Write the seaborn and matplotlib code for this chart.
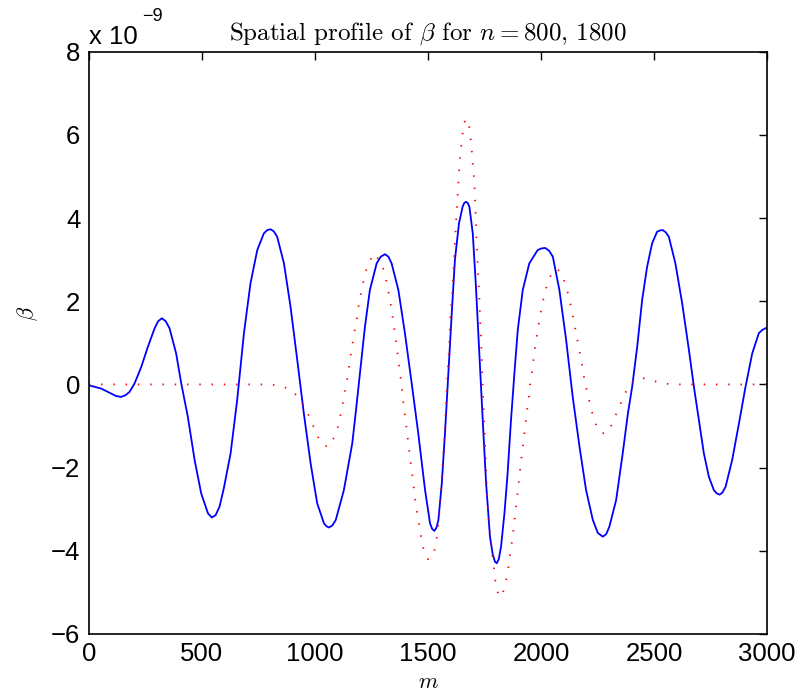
import numpy as np
import pandas as pd
import matplotlib
matplotlib.use("Agg")
import matplotlib.pyplot as plt
import seaborn as sns

# values, in units of 1e-9
m_800 = [0, 55, 99, 121, 143, 162, 180, 202, 232, 261, 291, 307, 323, 340, 357, 386, 409, 438,
         468, 497, 527, 544, 561, 578, 597, 627, 656, 686, 715, 745, 774, 789, 804, 818, 833,
         863, 892, 922, 951, 981, 1010, 1040, 1051, 1062, 1077, 1092, 1128, 1165, 1182, 1199,
         1221, 1243, 1273, 1291, 1310, 1325, 1339, 1369, 1398, 1428, 1457, 1487, 1509, 1518,
         1528, 1537, 1546, 1561, 1575, 1590, 1605, 1619, 1637, 1653, 1660, 1668, 1676, 1683,
         1698, 1712, 1727, 1742, 1757, 1774, 1786, 1796, 1804, 1813, 1823, 1838, 1852, 1867,
         1882, 1897, 1919, 1948, 1985, 2002, 2019, 2036, 2052, 2081, 2111, 2140, 2170, 2199,
         2229, 2251, 2273, 2288, 2302, 2332, 2361, 2384, 2403, 2425, 2447, 2469, 2491, 2513,
         2525, 2538, 2551, 2565, 2594, 2624, 2654, 2676, 2698, 2720, 2742, 2764, 2777, 2789,
         2802, 2816, 2845, 2875, 2904, 2934, 2963, 2978, 2992, 3000]
beta_800 = [-0.02, -0.10, -0.22, -0.28, -0.30, -0.26, -0.18, 0.02, 0.42, 0.90, 1.35, 1.52,
            1.59, 1.52, 1.35, 0.75, 0.02, -0.78, -1.82, -2.62, -3.10, -3.20, -3.14, -2.94,
            -2.50, -1.66, -0.38, 1.23, 2.43, 3.23, 3.63, 3.71, 3.73, 3.68, 3.55, 2.91, 1.87,
            0.58, -0.70, -1.90, -2.86, -3.34, -3.41, -3.44, -3.39, -3.26, -2.54, -1.42, -0.60,
            0.26, 1.38, 2.27, 2.91, 3.07, 3.13, 3.07, 2.91, 2.27, 1.23, 0.02, -1.18, -2.54,
            -3.34, -3.47, -3.52, -3.45, -3.26, -2.38, -1.18, 0.26, 1.71, 2.99, 3.87, 4.27,
            4.36, 4.39, 4.36, 4.27, 3.63, 2.35, 0.75, -0.86, -2.38, -3.66, -4.08, -4.26, -4.30,
            -4.20, -3.90, -3.10, -2.14, -0.86, 0.26, 1.31, 2.27, 2.91, 3.23, 3.27, 3.28, 3.21,
            3.07, 2.27, 1.06, -0.30, -1.50, -2.54, -3.26, -3.57, -3.66, -3.60, -3.42, -2.78,
            -1.66, -0.70, -0.05, 0.90, 2.03, 2.83, 3.39, 3.67, 3.70, 3.71, 3.66, 3.55, 2.91,
            1.95, 0.82, -0.06, -0.86, -1.66, -2.22, -2.54, -2.62, -2.65, -2.60, -2.46, -1.82,
            -0.94, -0.06, 0.75, 1.23, 1.31, 1.35, 1.37]

m_1800 = [0, 800, 855, 900, 937, 963, 985, 1000, 1022, 1040, 1062, 1088, 1099, 1111, 1122, 1131,
          1142, 1150, 1158, 1167, 1176, 1186, 1195, 1207, 1217, 1233, 1260, 1295, 1310, 1322,
          1332, 1341, 1348, 1357, 1363, 1370, 1377, 1384, 1392, 1400, 1407, 1413, 1420, 1426,
          1434, 1440, 1447, 1456, 1465, 1473, 1487, 1500, 1524, 1535, 1543, 1553, 1563, 1571,
          1580, 1585, 1593, 1600, 1606, 1612, 1618, 1627, 1634, 1640, 1646, 1652, 1659, 1670,
          1678, 1686, 1690, 1695, 1699, 1704, 1707, 1711, 1715, 1720, 1726, 1730, 1735, 1739,
          1743, 1748, 1752, 1757, 1761, 1769, 1782, 1789, 1796, 1801, 1815, 1826, 1841, 1852,
          1860, 1867, 1875, 1881, 1888, 1894, 1900, 1906, 1912, 1919, 1925, 1932, 1938, 1946,
          1951, 1959, 1966, 1973, 1982, 1994, 2004, 2016, 2031, 2055, 2070, 2088, 2108, 2122,
          2134, 2145, 2155, 2165, 2176, 2185, 2193, 2207, 2218, 2233, 2252, 2270, 2288, 2316,
          2336, 2358, 2382, 2417, 2450, 2472, 2487, 2535, 2580, 3000]
beta_1800 = [0.0, 0.0, -0.04, -0.15, -0.38, -0.63, -0.90, -1.10, -1.36, -1.47, -1.50, -1.24,
             -1.08, -0.78, -0.49, -0.19, 0.10, 0.40, 0.70, 1.00, 1.31, 1.60, 1.96, 2.27, 2.56,
             2.86, 3.15, 2.92, 2.63, 2.32, 2.03, 1.73, 1.43, 1.13, 0.83, 0.54, 0.24, -0.06,
             -0.50, -0.82, -1.12, -1.42, -1.72, -2.01, -2.31, -2.62, -2.92, -3.21, -3.51, -3.81,
             -4.10, -4.20, -4.12, -3.82, -3.52, -2.93, -2.02, -1.42, -0.51, 0.09, 0.85, 1.76,
             2.07, 2.67, 3.28, 4.19, 4.79, 5.39, 5.69, 5.99, 6.29, 6.38, 6.35, 6.05, 5.83, 5.54,
             5.23, 4.93, 4.63, 4.03, 3.43, 2.83, 2.23, 1.63, 1.02, 0.42, -0.22, -0.82, -1.42,
             -2.02, -2.62, -3.26, -3.98, -4.30, -4.62, -4.90, -5.08, -5.11, -4.82, -4.53, -4.22,
             -3.93, -3.63, -3.33, -3.02, -2.73, -2.42, -2.12, -1.82, -1.52, -1.22, -0.92, -0.62,
             -0.31, -0.02, 0.28, 0.58, 0.88, 1.19, 1.60, 1.90, 2.19, 2.49, 2.75, 2.77, 2.70,
             2.41, 2.12, 1.83, 1.53, 1.23, 0.94, 0.63, 0.36, 0.06, -0.23, -0.52, -0.82, -1.10,
             -1.17, -1.18, -0.94, -0.66, -0.38, -0.10, 0.13, 0.15, 0.13, 0.10, 0.03, 0.0, 0.0]

x_ticks = [0, 500, 1000, 1500, 2000, 2500, 3000]
y_ticks = [-6, -4, -2, 0, 2, 4, 6, 8]

sns.set_style("white")
plt.rcParams["font.family"] = ["Liberation Sans", "DejaVu Sans"]
plt.rcParams["mathtext.fontset"] = "cm"
plt.rcParams["xtick.direction"] = "in"
plt.rcParams["ytick.direction"] = "in"
plt.rcParams["text.color"] = "black"
plt.rcParams["axes.labelcolor"] = "black"

df800 = pd.DataFrame({"m": m_800, "beta": beta_800})
df1800 = pd.DataFrame({"m": m_1800, "beta": beta_1800})

fig = plt.figure(figsize=(8, 6.98), dpi=100)
ax = fig.add_axes([0.111, 0.0917, 0.848, 0.8343])

sns.lineplot(data=df800, x="m", y="beta", ax=ax, color="#0000ff", linewidth=1.3,
             sort=False, estimator=None)
sns.lineplot(data=df1800, x="m", y="beta", ax=ax, color="#ff0000", linewidth=1.3,
             linestyle=(0, (0.8, 6.0)), sort=False, estimator=None)

ax.set_xlim(0, 3000)
ax.set_ylim(-6, 8)
ax.set_xticks(x_ticks)
ax.set_yticks(y_ticks)
ax.set_xticklabels([str(t) for t in x_ticks])
ax.set_yticklabels([str(t).replace("-", "\u2212") for t in y_ticks])
ax.tick_params(axis="both", which="both", labelsize=18.5, length=6, width=1,
               top=True, right=True, color="black", labelcolor="black", pad=6)
for s in ax.spines.values():
    s.set_visible(True)
    s.set_color("black")
    s.set_linewidth(1.2)

ax.set_title(r"Spatial profile of $\beta$ for $n = 800$, $1800$",
             fontsize=18, family="cmr10", pad=9)
ax.set_xlabel(r"$m$", fontsize=16, labelpad=4)
ax.set_ylabel(r"$\beta$", fontsize=16)
ax.yaxis.set_label_coords(-0.072, 0.55)

ax.text(0.0, 1.005, "x 10", transform=ax.transAxes, fontsize=18.5, ha="left", va="bottom")
ax.text(0.078, 1.052, "\u22129", transform=ax.transAxes, fontsize=13, ha="left",
        va="baseline")

fig.savefig("out.png", dpi=100)
